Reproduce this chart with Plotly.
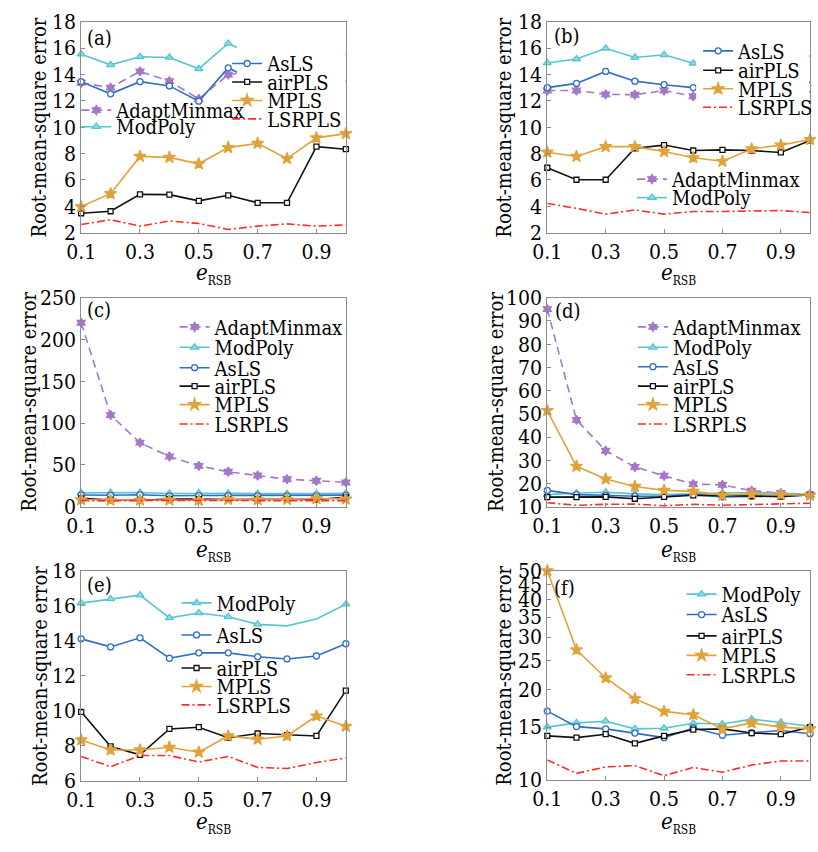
import math
import plotly.graph_objects as go

W, H = 818, 852

# ---------------- data ----------------
x_vals = [0.1, 0.2, 0.3, 0.4, 0.5, 0.6, 0.7, 0.8, 0.9, 1.0]
x_tickvals = [0.1, 0.3, 0.5, 0.7, 0.9]
x_ticktext = ["0.1", "0.3", "0.5", "0.7", "0.9"]

# (a)
a_AdaptMinmax = [13.37, 13.00, 14.23, 13.49, 12.14, 13.99, 14.30, 13.80, 14.00, 13.70]
a_ModPoly = [15.54, 14.73, 15.34, 15.29, 14.43, 16.35, 15.30, 15.60, 15.20, 15.50]
a_AsLS = [13.45, 12.53, 13.45, 13.13, 11.97, 14.50, 13.40, 13.60, 13.30, 13.50]
a_airPLS = [3.47, 3.62, 4.90, 4.88, 4.41, 4.83, 4.26, 4.26, 8.52, 8.33]
a_MPLS = [3.97, 4.95, 7.78, 7.71, 7.22, 8.45, 8.77, 7.61, 9.19, 9.51]
a_LSRPLS = [2.61, 2.98, 2.49, 2.88, 2.69, 2.24, 2.49, 2.66, 2.49, 2.59]
a_yticks = [2, 4, 6, 8, 10, 12, 14, 16, 18]

# (b)
b_AdaptMinmax = [12.78, 12.78, 12.49, 12.46, 12.78, 12.34, 12.50, 12.60, 12.40, 12.70]
b_ModPoly = [14.87, 15.17, 15.98, 15.29, 15.49, 14.85, 15.00, 15.30, 15.10, 15.40]
b_AsLS = [13.00, 13.32, 14.23, 13.49, 13.22, 13.00, 13.10, 13.30, 13.20, 13.40]
b_airPLS = [6.92, 6.01, 6.01, 8.40, 8.64, 8.23, 8.28, 8.23, 8.08, 8.99]
b_MPLS = [8.10, 7.78, 8.52, 8.52, 8.15, 7.68, 7.41, 8.35, 8.64, 9.06]
b_LSRPLS = [4.21, 3.84, 3.40, 3.72, 3.40, 3.60, 3.60, 3.62, 3.67, 3.52]
b_yticks = [2, 4, 6, 8, 10, 12, 14, 16, 18]

# (c)
c_AdaptMinmax = [220.0, 109.5, 76.6, 60.0, 48.8, 41.8, 37.2, 32.9, 31.0, 29.0]
c_ModPoly = [16.5, 16.8, 16.9, 15.8, 16.2, 15.9, 15.6, 15.4, 15.7, 16.0]
c_AsLS = [14.0, 13.6, 14.2, 13.0, 13.3, 13.3, 13.0, 12.9, 13.1, 13.8]
c_airPLS = [10.0, 8.0, 7.5, 9.0, 9.1, 8.4, 8.7, 8.6, 8.5, 11.2]
c_MPLS = [8.3, 7.7, 7.7, 7.9, 7.6, 8.6, 8.3, 8.6, 9.7, 9.1]
c_LSRPLS = [7.3, 6.8, 7.4, 7.4, 7.1, 7.4, 6.8, 6.7, 7.0, 7.2]
c_yticks = [0, 50, 100, 150, 200, 250]

# (d)
d_AdaptMinmax = [95.1, 47.4, 34.1, 27.1, 23.3, 19.7, 19.4, 16.9, 15.9, 15.2]
d_ModPoly = [15.2, 15.9, 16.2, 15.5, 15.2, 15.6, 15.9, 16.0, 15.9, 15.2]
d_AsLS = [17.0, 15.2, 14.9, 14.5, 14.5, 15.2, 14.2, 14.5, 14.5, 14.9]
d_airPLS = [14.1, 14.1, 14.2, 13.4, 14.2, 14.9, 14.8, 14.5, 14.3, 15.2]
d_MPLS = [51.4, 27.4, 21.9, 18.7, 17.0, 16.6, 14.9, 15.5, 15.2, 14.9]
d_LSRPLS = [11.7, 10.6, 11.0, 11.1, 10.4, 11.0, 10.6, 11.0, 11.3, 11.5]
d_yticks = [10, 20, 30, 40, 50, 60, 70, 80, 90, 100]

# (e)
e_ModPoly = [16.15, 16.39, 16.61, 15.31, 15.59, 15.37, 14.94, 14.85, 15.25, 16.09]
e_AsLS = [14.11, 13.65, 14.17, 13.00, 13.31, 13.31, 13.09, 12.96, 13.13, 13.83]
e_airPLS = [9.94, 7.96, 7.48, 8.96, 9.06, 8.46, 8.70, 8.61, 8.56, 11.15]
e_MPLS = [8.33, 7.76, 7.76, 7.91, 7.63, 8.56, 8.37, 8.56, 9.70, 9.11]
e_LSRPLS = [7.39, 6.80, 7.44, 7.44, 7.07, 7.39, 6.76, 6.70, 7.04, 7.30]
e_yticks = [6, 8, 10, 12, 14, 16, 18]

# (f)
f_ModPoly = [15.00, 15.50, 15.70, 14.80, 14.87, 15.45, 15.37, 15.95, 15.55, 15.10]
f_AsLS = [16.97, 15.06, 14.80, 14.33, 13.83, 14.90, 14.09, 14.36, 14.61, 14.26]
f_airPLS = [14.02, 13.83, 14.20, 13.24, 14.02, 14.72, 14.80, 14.33, 14.20, 15.00]
f_MPLS = [50.0, 27.2, 21.9, 18.66, 16.93, 16.50, 14.80, 15.50, 15.00, 14.80]
f_LSRPLS = [11.64, 10.51, 11.04, 11.15, 10.32, 10.99, 10.60, 11.20, 11.55, 11.55]
f_yticks = [10, 15, 20, 25, 30, 35, 40, 45, 50]

# ---------------- styles ----------------
FONT = "DejaVu Serif Condensed, DejaVu Serif, serif"
GRAY = "#8c8c8c"

STYLE = {
    "AdaptMinmax": dict(color="#A477C8", dash="8px,5px", symbol="hexagram", msize=7, mfill="#A477C8"),
    "ModPoly": dict(color="#55C5D1", dash="solid", symbol="triangle-up", msize=7, mfill="#8EDCE3"),
    "AsLS": dict(color="#2F6EC3", dash="solid", symbol="circle", msize=6, mfill="white"),
    "airPLS": dict(color="#111111", dash="solid", symbol="square", msize=5, mfill="white"),
    "MPLS": dict(color="#E1A23B", dash="solid", symbol="star", msize=9, mfill="#E1A23B"),
    "LSRPLS": dict(color="#FF2B2B", dash="8px,3px,2px,3px", symbol=None, msize=0, mfill=None),
}

# indices of points whose markers are shown (others lie under the legend box / are unmarked)
SHOW_06 = [0, 1, 2, 3, 4, 5]
SHOW_E = [0, 1, 2, 3, 4, 5, 6, 9]

panels = [
    dict(label="(a)", box=(68, 340, 10, 227), yr=(2, 18), yt=a_yticks, log=False,
         series=[("AdaptMinmax", a_AdaptMinmax), ("ModPoly", a_ModPoly), ("AsLS", a_AsLS),
                 ("airPLS", a_airPLS), ("MPLS", a_MPLS), ("LSRPLS", a_LSRPLS)],
         leg={"AsLS": (218, 53), "airPLS": (218, 72), "MPLS": (218, 91), "LSRPLS": (218, 110),
              "AdaptMinmax": (63, 101), "ModPoly": (63, 118)},
         lab=(72, 27), ytit=25, xtit_y=270, cover=(228, 339.5, 28, 119),
         show={"AdaptMinmax": SHOW_06, "ModPoly": SHOW_06, "AsLS": SHOW_06}),
    dict(label="(b)", box=(547, 817, 10, 227), yr=(2, 18), yt=b_yticks, log=False,
         series=[("AdaptMinmax", b_AdaptMinmax), ("ModPoly", b_ModPoly), ("AsLS", b_AsLS),
                 ("airPLS", b_airPLS), ("MPLS", b_MPLS), ("LSRPLS", b_LSRPLS)],
         leg={"AsLS": (702, 40), "airPLS": (702, 60), "MPLS": (702, 79), "LSRPLS": (702, 98),
              "AdaptMinmax": (634, 172), "ModPoly": (634, 191)},
         lab=(552, 25), ytit=503, xtit_y=270, cover=(700, 816, 24, 114),
         show={"AdaptMinmax": SHOW_06, "ModPoly": SHOW_06, "AsLS": SHOW_06}),
    dict(label="(c)", box=(68, 340, 294, 509), yr=(0, 250), yt=c_yticks, log=False,
         series=[("AdaptMinmax", c_AdaptMinmax), ("ModPoly", c_ModPoly), ("AsLS", c_AsLS),
                 ("airPLS", c_airPLS), ("MPLS", c_MPLS), ("LSRPLS", c_LSRPLS)],
         leg={"AdaptMinmax": (164, 324), "ModPoly": (164, 345), "AsLS": (164, 366),
              "airPLS": (164, 385), "MPLS": (164, 404), "LSRPLS": (164, 424)},
         lab=(72, 307), ytit=15, xtit_y=555, cover=None),
    dict(label="(d)", box=(547, 817, 294, 509), yr=(10, 100), yt=d_yticks, log=False,
         series=[("AdaptMinmax", d_AdaptMinmax), ("ModPoly", d_ModPoly), ("AsLS", d_AsLS),
                 ("airPLS", d_airPLS), ("MPLS", d_MPLS), ("LSRPLS", d_LSRPLS)],
         leg={"AdaptMinmax": (635, 324), "ModPoly": (635, 345), "AsLS": (635, 365),
              "airPLS": (635, 385), "MPLS": (635, 404), "LSRPLS": (635, 424)},
         lab=(553, 308), ytit=495, xtit_y=555, cover=None),
    dict(label="(e)", box=(68, 340, 575, 791), yr=(6, 18), yt=e_yticks, log=False,
         series=[("ModPoly", e_ModPoly), ("AsLS", e_AsLS), ("airPLS", e_airPLS),
                 ("MPLS", e_MPLS), ("LSRPLS", e_LSRPLS)],
         leg={"ModPoly": (166, 608), "AsLS": (166, 641), "airPLS": (166, 675),
              "MPLS": (166, 694), "LSRPLS": (166, 713)},
         lab=(72, 590), ytit=25, xtit_y=834, cover=None,
         show={"ModPoly": SHOW_E}),
    dict(label="(f)", box=(547, 817, 575, 790), yr=(10, 50), yt=f_yticks, log=True,
         series=[("ModPoly", f_ModPoly), ("AsLS", f_AsLS), ("airPLS", f_airPLS),
                 ("MPLS", f_MPLS), ("LSRPLS", f_LSRPLS)],
         leg={"ModPoly": (685, 599), "AsLS": (685, 620), "airPLS": (685, 642),
              "MPLS": (685, 662), "LSRPLS": (685, 682)},
         lab=(552, 593), ytit=503, xtit_y=834, cover=None),
]

fig = go.Figure()
layout = dict(width=W, height=H, margin=dict(l=0, r=0, t=0, b=0),
              paper_bgcolor="white", plot_bgcolor="white", showlegend=True,
              font=dict(family=FONT, size=20, color="black"))
annotations = []
shapes = []
leg_n = 0

for i, p in enumerate(panels):
    n = "" if i == 0 else str(i + 1)
    xa, ya = "x" + n, "y" + n
    x0, x1, y0, y1 = p["box"]
    common = dict(ticks="inside", ticklen=4, tickwidth=1, tickcolor=GRAY, showline=True,
                  linecolor=GRAY, linewidth=1, mirror=True, showgrid=False, zeroline=False,
                  tickfont=dict(family=FONT, size=21, color="black"))
    layout["xaxis" + n] = dict(domain=[x0 / W, x1 / W], anchor=ya, range=[0.1, 1.0],
                               tickmode="array", tickvals=x_tickvals, ticktext=x_ticktext, **common)
    yax = dict(domain=[1 - y1 / H, 1 - y0 / H], anchor=xa, tickmode="array",
               tickvals=p["yt"], ticktext=[str(v) for v in p["yt"]], **common)
    if p["log"]:
        yax.update(type="log", range=[math.log10(p["yr"][0]), math.log10(p["yr"][1])])
    else:
        yax.update(range=list(p["yr"]))
    layout["yaxis" + n] = yax

    for name, vals in p["series"]:
        st = STYLE[name]
        leg_n += 1
        lid = "legend" if leg_n == 1 else "legend%d" % leg_n
        kw = dict(x=x_vals, y=vals, xaxis=xa, yaxis=ya, name=name, legend=lid,
                  showlegend=True, cliponaxis=False,
                  line=dict(color=st["color"], width=1.6, dash=st["dash"]))
        if st["symbol"]:
            kw.update(mode="lines+markers",
                      marker=dict(symbol=st["symbol"], size=st["msize"], color=st["mfill"],
                                  line=dict(color=st["color"], width=1.3)))
            show = p.get("show", {}).get(name)
            if show is not None:
                kw.update(selectedpoints=show,
                          selected=dict(marker=dict(opacity=1)),
                          unselected=dict(marker=dict(opacity=0)))
        else:
            kw.update(mode="lines")
        fig.add_trace(go.Scatter(**kw))
        lx, ly = p["leg"][name]
        layout[lid] = dict(x=lx / W, y=1 - ly / H, xanchor="left", yanchor="middle",
                           bgcolor="rgba(0,0,0,0)", borderwidth=0, itemwidth=30,
                           font=dict(family=FONT, size=20, color="black"))

    annotations.append(dict(text=p["label"], x=p["lab"][0] / W, y=1 - p["lab"][1] / H,
                            xref="paper", yref="paper", xanchor="left", yanchor="middle",
                            showarrow=False, font=dict(family=FONT, size=20, color="black")))
    annotations.append(dict(text="Root-mean-square error", x=p["ytit"] / W,
                            y=1 - ((y0 + y1) / 2) / H, xref="paper", yref="paper",
                            xanchor="center", yanchor="middle", textangle=-90, showarrow=False,
                            font=dict(family=FONT, size=20, color="black")))
    annotations.append(dict(text="<i>e</i><sub><span style='font-size:12px'>RSB</span></sub>",
                            x=((x0 + x1) / 2) / W, y=1 - p["xtit_y"] / H, xref="paper",
                            yref="paper", xanchor="center", yanchor="middle", showarrow=False,
                            font=dict(family=FONT, size=22, color="black")))
    if p["cover"]:
        cx0, cx1, cy0, cy1 = p["cover"]
        shapes.append(dict(type="rect", xref="paper", yref="paper", x0=cx0 / W, x1=cx1 / W,
                           y0=1 - cy1 / H, y1=1 - cy0 / H, fillcolor="white",
                           line=dict(width=0), layer="above"))

layout["annotations"] = annotations
layout["shapes"] = shapes
fig.update_layout(**layout)
fig.write_html("out.html", config={"displayModeBar": False},
               post_script="document.body.style.margin='0';document.body.style.overflow='hidden';")
